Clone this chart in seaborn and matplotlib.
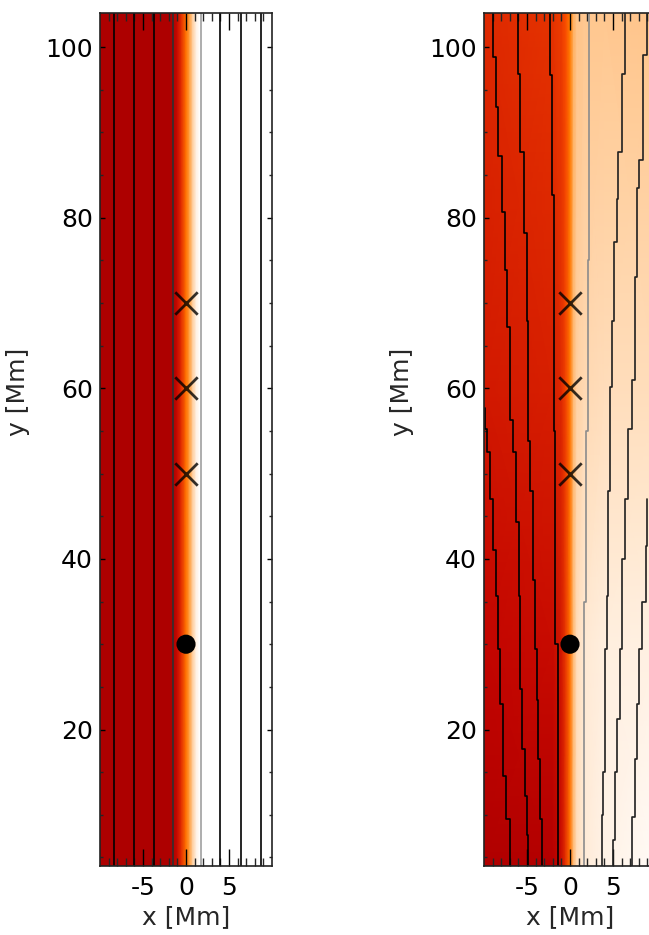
import matplotlib.pyplot as plt
import numpy as np
import seaborn as sns

# colour values on the gist_heat scale (0-1)
heat_x_left = [-10, -1.55, -1.0, -0.5, 0.0, 0.4, 0.8, 1.2, 1.6, 10]
heat_left = [0.45, 0.45, 0.52, 0.60, 0.72, 0.81, 0.91, 0.97, 1.0, 1.0]

heat_x_right = [-10, -2.0, -1.0, -0.5, 0.0, 0.4, 0.8, 1.6, 4.0, 10]
heat_y_right = [4, 30, 60, 104]
heat_right_y4 = [0.46, 0.47, 0.52, 0.60, 0.72, 0.86, 0.93, 0.96, 0.975, 0.99]
heat_right_y30 = [0.51, 0.52, 0.55, 0.61, 0.72, 0.86, 0.93, 0.955, 0.965, 0.97]
heat_right_y60 = [0.55, 0.56, 0.58, 0.63, 0.73, 0.86, 0.91, 0.925, 0.93, 0.93]
heat_right_y104 = [0.58, 0.60, 0.62, 0.65, 0.74, 0.84, 0.88, 0.89, 0.89, 0.885]

# field lines, left panel (straight)
left_lines_x = [-8.35, -6.0, -3.7, -1.55, 1.7, 4.0, 6.35, 8.7]
left_lines_col = ['k', 'k', 'k', '#303030', '#a0a0a0', 'k', 'k', 'k']

# field lines, right panel (stairs: x holds between successive y levels)
l0_y = [57.7, 55.2, 52.5, 47.0, 41.1, 35.6, 29.4, 23.0, 14.5, 9.5, 4.0]
l0_x = [-9.9, -9.7, -9.3, -8.9, -8.56, -8.36, -8.1, -7.8, -7.4, -7.0]
l1_y = [104, 98.9, 93.0, 87.2, 80.7, 73.9, 67.2, 56.3, 52.5, 44.3, 35.6, 24.7, 17.7, 12.2, 7.6, 4.0]
l1_x = [-9.0, -8.6, -8.33, -7.95, -7.56, -7.37, -6.98, -6.6, -6.28, -5.9, -5.8, -5.63, -5.23, -5.05, -4.85]
l2_y = [104, 96.9, 87.7, 78.2, 67.9, 53.8, 48.0, 37.5, 29.4, 23.5, 16.5, 9.5, 4.0]
l2_x = [-6.0, -5.8, -5.4, -5.05, -4.85, -4.65, -4.35, -4.07, -3.88, -3.7, -3.49, -3.3]
l3_y = [104, 96.7, 82.7, 55, 30, 4]
l3_x = [-2.33, -2.06, -1.9, -1.7, -1.45]
l4_y = [104, 75, 55, 35, 4]
l4_x = [2.24, 2.05, 1.86, 1.6]
l5_y = [104, 96.9, 87.7, 82.2, 77.1, 67.9, 60.2, 48.0, 35.6, 29.4, 15.0, 10.0, 4.0]
l5_x = [6.4, 6.0, 5.6, 5.42, 5.1, 4.84, 4.65, 4.45, 4.26, 4.07, 3.88, 3.7]
l6_y = [104, 99.1, 86.8, 83.5, 73.0, 61.0, 55.2, 47.0, 40.0, 29.4, 21.2, 15.0, 7.0, 4.0]
l6_x = [8.9, 8.45, 8.06, 7.75, 7.5, 7.2, 6.78, 6.4, 6.0, 5.8, 5.42, 5.23, 4.95]
l7_y = [47.0, 41.5, 35.0, 29.4, 23.0, 16.5, 9.8, 4.0]
l7_x = [8.9, 8.8, 8.4, 8.06, 7.75, 7.6, 7.2]
right_lines = [(l0_x, l0_y, 'k'), (l1_x, l1_y, 'k'), (l2_x, l2_y, 'k'),
               (l3_x, l3_y, 'k'), (l4_x, l4_y, '#8c8c8c'), (l5_x, l5_y, '#202020'),
               (l6_x, l6_y, '#202020'), (l7_x, l7_y, '#202020')]

# markers
cross_x = [0.0, 0.0, 0.0]
cross_y = [70, 60, 50]
dot_x = [0.0]
dot_y = [30]

sns.set_style('ticks')
plt.rcParams['font.family'] = 'DejaVu Sans'
plt.rcParams['axes.unicode_minus'] = False

fig = plt.figure(figsize=(6.49, 9.35), dpi=100)
ax1 = fig.add_axes([100 / 649, 69 / 935, 172 / 649, 853 / 935])
ax2 = fig.add_axes([484 / 649, 69 / 935, 172 / 649, 853 / 935])

# backgrounds
X1, Y1 = np.meshgrid(heat_x_left, [4, 104])
ax1.pcolormesh(X1, Y1, np.vstack([heat_left, heat_left]), shading='gouraud',
               cmap='gist_heat', vmin=0, vmax=1, zorder=0)
X2, Y2 = np.meshgrid(heat_x_right, heat_y_right)
C2 = np.vstack([heat_right_y4, heat_right_y30, heat_right_y60, heat_right_y104])
ax2.pcolormesh(X2, Y2, C2, shading='gouraud', cmap='gist_heat', vmin=0, vmax=1, zorder=0)

# field lines
for x, c in zip(left_lines_x, left_lines_col):
    ax1.vlines(x, 4, 104, color=c, lw=1.2, zorder=2)
for xs, ys, c in right_lines:
    ax2.plot(xs + [xs[-1]], ys, drawstyle='steps-pre', color=c, lw=1.2, zorder=2)

for ax in (ax1, ax2):
    sns.scatterplot(x=cross_x, y=cross_y, marker='x', s=260, color='k',
                    linewidth=2.0, alpha=0.8, ax=ax, zorder=4)
    sns.scatterplot(x=dot_x, y=dot_y, marker='o', s=190, color='k',
                    edgecolor='none', ax=ax, zorder=4)

    ax.set_xlim(-10, 10)
    ax.set_ylim(4, 104)
    ax.set_xticks([-5, 0, 5])
    ax.set_xticks([v for v in range(-9, 10) if v % 5 != 0], minor=True)
    ax.set_yticks([20, 40, 60, 80, 100])
    ax.set_yticks([v for v in range(5, 105, 5) if v % 20 != 0], minor=True)
    ax.tick_params(axis='x', which='major', direction='in', length=12, width=1,
                   top=True, bottom=True, labelsize=18, pad=7, colors='k')
    ax.tick_params(axis='x', which='minor', direction='in', length=6, width=1,
                   top=True, bottom=True)
    ax.tick_params(axis='y', which='major', direction='in', length=3.6, width=1,
                   left=True, right=True, labelsize=18, pad=5, colors='k')
    ax.tick_params(axis='y', which='minor', direction='in', length=2, width=1,
                   left=True, right=True)
    for s in ax.spines.values():
        s.set_color('#222222')
        s.set_linewidth(1.2)
    ax.set_xlabel('x [Mm]', fontsize=18, labelpad=4)
    ax.set_ylabel('y [Mm]', fontsize=18)
    ax.yaxis.set_label_coords(-0.405, 0.556)

fig.savefig('out.png', dpi=100)
